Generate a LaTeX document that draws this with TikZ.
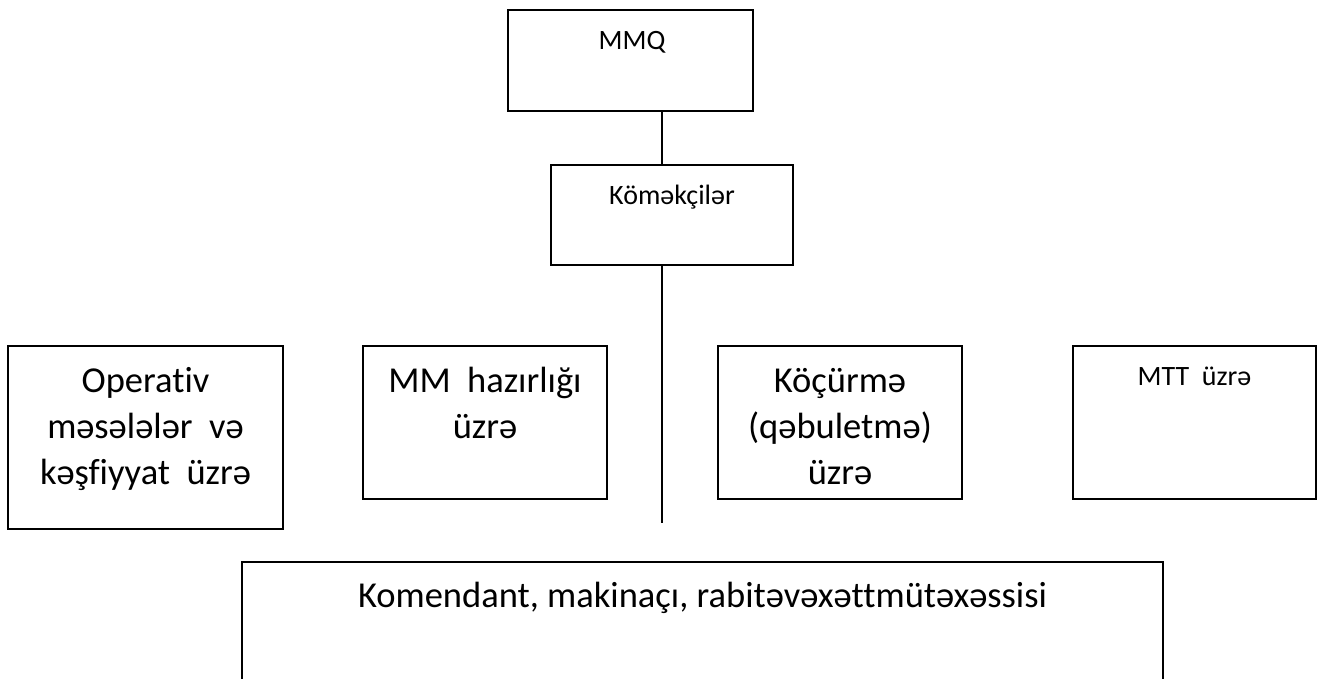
\documentclass[tikz,border=0pt]{standalone}
\usepackage{fontspec}
\setmainfont{Carlito}[Ligatures=NoCommon]
\usetikzlibrary{calc}
\begin{document}
\begin{tikzpicture}[x=1pt,y=-1pt,
  orgbox/.style={draw=black,line width=1.8pt,inner sep=0pt,fill=none},
  conn/.style={draw=black,line width=1.8pt},
  bigtext/.style={font=\fontsize{36.5}{46}\selectfont,align=center,anchor=base,inner sep=0pt},
  smalltext/.style={font=\fontsize{28}{33}\selectfont,align=center,anchor=base,inner sep=0pt}]
\useasboundingbox (0,0) rectangle (1323,679);
\clip (0,0) rectangle (1323,679);
\fill[white] (0,0) rectangle (1323,679);

% boxes
\node[orgbox,minimum width=245pt,minimum height=101pt] (mmq) at (630.5,60.5) {};
\node[orgbox,minimum width=242pt,minimum height=100pt] (kom) at (672,215) {};
\node[orgbox,minimum width=275pt,minimum height=183pt] (op) at (145.5,437.5) {};
\node[orgbox,minimum width=244pt,minimum height=153pt] (mm) at (485,422.5) {};
\node[orgbox,minimum width=244pt,minimum height=153pt] (koc) at (840,422.5) {};
\node[orgbox,minimum width=243pt,minimum height=153pt] (mtt) at (1194.5,422.5) {};
\node[orgbox,minimum width=921pt,minimum height=160pt,anchor=north] (crew) at (702.5,561) {};

% texts (anchor = baseline of the last line)
\node[smalltext] (mmqt) at (632,50) {MMQ};
\node[smalltext] (komt) at (672,205) {Köməkçilər};
\node[bigtext] (opt) at (145.5,484) {Operativ\\məsələlər\hspace{0.45em}və\\kəşfiyyat\hspace{0.45em}üzrə};
\node[bigtext] (mmt) at (485,438) {MM\hspace{0.45em}hazırlığı\\üzrə};
\node[bigtext] (koct) at (840,484) {Köçürmə\\(qəbuletmə)\\üzrə};
\node[smalltext] (mttt) at (1194.5,385) {MTT\hspace{0.45em}üzrə};
\node[bigtext] (crewt) at (702.5,607) {Komendant, makinaçı, rabitəvəxəttmütəxəssisi};

% connectors
\coordinate (spine) at (662,0);
\coordinate (spineend) at (662,523);
\draw[conn] (mmq.south -| spine) -- (kom.north -| spine);
\draw[conn] (kom.south -| spine) -- (spineend);
\end{tikzpicture}
\end{document}
